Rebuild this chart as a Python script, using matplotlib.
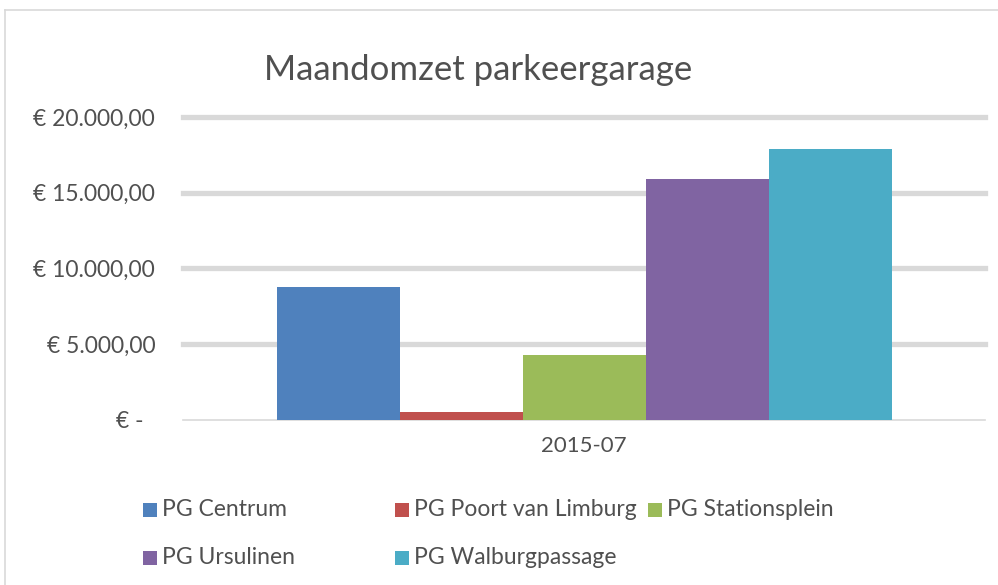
import matplotlib
matplotlib.use("Agg")
import matplotlib.pyplot as plt
from matplotlib.patches import Rectangle
from matplotlib.lines import Line2D

title = "Maandomzet parkeergarage"
category = ["2015-07"]
series = ["PG Centrum", "PG Poort van Limburg", "PG Stationsplein",
          "PG Ursulinen", "PG Walburgpassage"]
values = [8750, 480, 4280, 15900, 17900]
colors = ["#4F81BD", "#C0504D", "#9BBB59", "#8064A2", "#4BACC6"]
yticks = [0, 5000, 10000, 15000, 20000]
ytick_labels = ["€ -  ", "€ 5.000,00", "€ 10.000,00", "€ 15.000,00", "€ 20.000,00"]

plt.rcParams['font.family'] = ['Lato', 'DejaVu Sans']
W, H = 998, 585
fig = plt.figure(figsize=(W / 100, H / 100), dpi=100)
fig.patch.set_facecolor("white")

left, right = 183, 985
bottom_px, top_px = 419.5, 117
ax = fig.add_axes([left / W, 1 - bottom_px / H, (right - left) / W, (bottom_px - top_px) / H])

w = 123 / (right - left)
for i, (name, v, c) in enumerate(zip(series, values, colors)):
    ax.bar((i - 2) * w, v, width=w, color=c, label=name, zorder=3)

ax.set_xlim(-0.5, 0.5)
ax.set_ylim(0, 20000)
ax.set_yticks(yticks)
ax.set_yticklabels(ytick_labels)
ax.set_xticks([0])
ax.set_xticklabels(category)
for s in ["top", "right", "left"]:
    ax.spines[s].set_visible(False)
ax.spines["bottom"].set_color("#D9D9D9")
ax.spines["bottom"].set_linewidth(1.2)
ax.tick_params(axis="both", length=0, labelcolor="#505050")
ax.tick_params(axis="y", pad=20, labelsize=16.5)
ax.tick_params(axis="x", pad=12, labelsize=16)
for y in yticks[1:]:
    ax.axhline(y, color="#D9D9D9", linewidth=3.8, zorder=1, clip_on=False)

fig.text(478 / W, 1 - 70 / H, title, ha="center", va="center",
         fontsize=25, color="#505050")

# legend entries
leg_pos = [(143, 510), (395, 510), (648, 510), (143, 558), (395, 558)]
for (x, y), name, c in zip(leg_pos, series, colors):
    fig.patches.append(Rectangle((x / W, 1 - (y + 7) / H), 14 / W, 14 / H,
                                 transform=fig.transFigure, facecolor=c, edgecolor="none"))
    fig.text((x + 19) / W, 1 - y / H, name, ha="left", va="center",
             fontsize=16.5, color="#505050")

# outer frame
fig.add_artist(Line2D([5 / W, 1], [1 - 10 / H, 1 - 10 / H], transform=fig.transFigure,
                      color="#D9D9D9", linewidth=1.2))
fig.add_artist(Line2D([5 / W, 5 / W], [0, 1 - 10 / H], transform=fig.transFigure,
                      color="#D9D9D9", linewidth=1.2))

fig.savefig("out.png", dpi=100)
